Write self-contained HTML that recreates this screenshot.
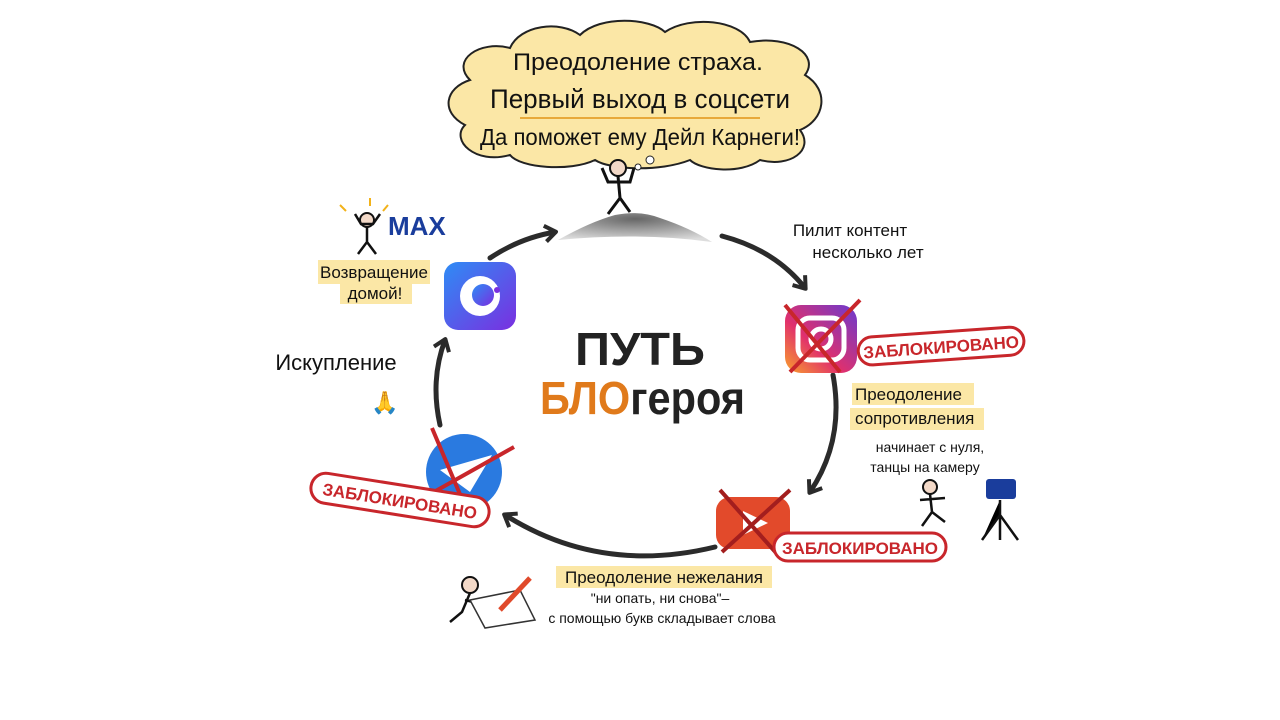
<!DOCTYPE html>
<html><head><meta charset="utf-8"><style>
body{margin:0;background:#fff;width:1280px;height:720px;overflow:hidden}
svg{display:block}
text{font-family:"Liberation Sans","DejaVu Sans",sans-serif}
</style></head><body>
<svg width="1280" height="720" viewBox="0 0 1280 720">
<defs>
<marker id="ah" markerWidth="20" markerHeight="20" refX="12" refY="10" orient="auto" markerUnits="userSpaceOnUse"><path d="M2,2 L13,10 L2,18" fill="none" stroke="#2b2b2b" stroke-width="4" stroke-linejoin="round"/></marker>
<linearGradient id="ig" x1="0" y1="1" x2="1" y2="0"><stop offset="0" stop-color="#f9a12b"/><stop offset=".4" stop-color="#e1306c"/><stop offset="1" stop-color="#6a3ad0"/></linearGradient>
<linearGradient id="mx" x1="0" y1="0" x2="1" y2="1"><stop offset="0" stop-color="#2e8cf5"/><stop offset="1" stop-color="#7a2fe0"/></linearGradient>
<radialGradient id="mt" cx=".5" cy=".2" r=".8"><stop offset="0" stop-color="#666"/><stop offset="1" stop-color="#ddd"/></radialGradient>
</defs>
<!-- cloud -->
<path d="M470,80 C450,60 480,40 510,48 C520,25 560,20 580,35 C600,15 650,18 665,32 C690,15 740,20 750,42 C790,35 820,55 805,75 C830,90 825,120 800,130 C815,150 790,168 760,160 C740,175 700,170 690,160 C660,172 610,170 595,160 C570,172 520,168 510,155 C475,165 450,140 465,125 C440,112 445,88 470,80Z" fill="#fbe7a6" stroke="#222" stroke-width="2"/>
<g fill="#111" text-anchor="middle">
<text x="638" y="70" font-size="24" textLength="250" lengthAdjust="spacingAndGlyphs">Преодоление страха.</text>
<text x="640" y="108" font-size="27" textLength="300" lengthAdjust="spacingAndGlyphs">Первый выход в соцсети</text>
<text x="640" y="145" font-size="23" textLength="320" lengthAdjust="spacingAndGlyphs">Да поможет ему Дейл Карнеги!</text>
</g>
<line x1="520" y1="118" x2="760" y2="118" stroke="#e8a93a" stroke-width="2"/>
<circle cx="638" cy="167" r="3" fill="#fff" stroke="#222"/><circle cx="650" cy="160" r="4" fill="#fff" stroke="#222"/>
<!-- stick figure + mountain -->
<path d="M558,240 Q590,222 615,215 Q640,210 660,218 Q690,228 712,242 Q640,232 558,240Z" fill="url(#mt)"/>
<circle cx="618" cy="168" r="8" fill="#f3d9c8" stroke="#111" stroke-width="2"/>
<path d="M618,176 L620,198 M602,168 L608,182 L630,182 L634,168 M620,198 L608,214 M620,198 L630,212" stroke="#111" stroke-width="3" fill="none"/>
<!-- arrows -->
<g stroke="#2b2b2b" stroke-width="5" fill="none" stroke-linecap="round">
<path d="M490,258 Q520,238 555,232" marker-end="url(#ah)"/>
<path d="M722,236 Q775,250 805,288" marker-end="url(#ah)"/>
<path d="M833,375 Q845,440 810,492" marker-end="url(#ah)"/>
<path d="M715,547 Q600,575 505,515" marker-end="url(#ah)"/>
<path d="M440,425 Q430,380 445,340" marker-end="url(#ah)"/>
</g>
<g font-size="17" fill="#111" text-anchor="middle"><text x="850" y="236">Пилит контент</text><text x="868" y="258">несколько лет</text></g>
<!-- center title -->
<text x="640" y="365" font-size="46" font-weight="bold" text-anchor="middle" fill="#222" textLength="130" lengthAdjust="spacingAndGlyphs">ПУТЬ</text>
<text x="540" y="414" font-size="46" font-weight="bold" fill="#e07a1b" textLength="205" lengthAdjust="spacingAndGlyphs">БЛО<tspan fill="#222">героя</tspan></text>
<!-- Max app -->
<rect x="444" y="262" width="72" height="68" rx="14" fill="url(#mx)"/>
<circle cx="480" cy="296" r="20" fill="#fff"/><circle cx="483" cy="295" r="11" fill="url(#mx)"/><circle cx="497" cy="290" r="3" fill="#7a2fe0"/>
<text x="388" y="235" font-size="26" font-weight="bold" fill="#1a3d9c">MAX</text>
<circle cx="367" cy="220" r="7" fill="#f3d9c8" stroke="#111" stroke-width="2"/>
<path d="M367,227 L367,242 L358,254 M367,242 L376,254 M355,214 L361,224 L373,224 L380,214" stroke="#111" stroke-width="2.5" fill="none"/>
<path d="M340,205 l6,6 M370,198 l0,8 M388,205 l-5,6" stroke="#f2b21a" stroke-width="2"/>
<rect x="318" y="260" width="112" height="24" fill="#fbe7a6"/><rect x="340" y="282" width="72" height="22" fill="#fbe7a6"/>
<text x="374" y="278" font-size="17" text-anchor="middle" fill="#111">Возвращение</text>
<text x="375" y="299" font-size="17" text-anchor="middle" fill="#111">домой!</text>
<text x="336" y="370" font-size="22" text-anchor="middle" fill="#111">Искупление</text>
<text x="385" y="410" font-size="22" text-anchor="middle">🙏</text>
<!-- instagram -->
<rect x="785" y="305" width="72" height="68" rx="16" fill="url(#ig)"/>
<rect x="798" y="318" width="46" height="42" rx="12" fill="none" stroke="#fff" stroke-width="5"/><circle cx="821" cy="339" r="10" fill="none" stroke="#fff" stroke-width="5"/>
<path d="M785,305 L840,372 M860,300 L790,372" stroke="#c8262b" stroke-width="4"/>
<g transform="rotate(-4 942 345)"><rect x="858" y="332" width="166" height="28" rx="14" fill="#fff" stroke="#c8262b" stroke-width="3"/>
<text x="941" y="353" font-size="17" font-weight="bold" fill="#c8262b" text-anchor="middle">ЗАБЛОКИРОВАНО</text></g>
<rect x="852" y="383" width="122" height="22" fill="#fbe7a6"/><rect x="850" y="408" width="134" height="22" fill="#fbe7a6"/>
<g font-size="17" fill="#111"><text x="855" y="400">Преодоление</text><text x="855" y="424">сопротивления</text></g>
<g font-size="14" fill="#111" text-anchor="middle"><text x="930" y="452">начинает с нуля,</text><text x="925" y="472">танцы на камеру</text></g>
<circle cx="930" cy="487" r="7" fill="#f3d9c8" stroke="#111" stroke-width="2"/>
<path d="M930,494 L932,512 L922,526 M932,512 L945,522 M920,500 L945,498" stroke="#111" stroke-width="2.5" fill="none"/>
<rect x="986" y="479" width="30" height="20" rx="3" fill="#1a3d9c"/>
<path d="M1000,500 L1000,515 L982,540 M1000,515 L1018,540 M1000,515 L1000,540" stroke="#111" stroke-width="2.5"/>
<!-- youtube -->
<rect x="716" y="497" width="74" height="52" rx="14" fill="#e24a2b"/><path d="M743,511 L768,523 L743,535Z" fill="#fff"/>
<path d="M720,490 L778,555 M790,490 L722,552" stroke="#a31e1e" stroke-width="4"/>
<rect x="774" y="533" width="172" height="28" rx="14" fill="#fff" stroke="#c8262b" stroke-width="3"/>
<text x="860" y="554" font-size="17" font-weight="bold" fill="#c8262b" text-anchor="middle">ЗАБЛОКИРОВАНО</text>
<!-- telegram -->
<circle cx="464" cy="472" r="38" fill="#2a7ae0"/><path d="M440,470 L492,455 L470,492Z" fill="#fff"/>
<path d="M432,428 L470,518 M514,447 L425,497" stroke="#c8262b" stroke-width="4"/>
<g transform="rotate(9 400 500)"><rect x="310" y="485" width="180" height="30" rx="15" fill="#fff" stroke="#c8262b" stroke-width="3"/>
<text x="400" y="507" font-size="17" font-weight="bold" fill="#c8262b" text-anchor="middle">ЗАБЛОКИРОВАНО</text></g>
<!-- bottom -->
<rect x="556" y="566" width="216" height="22" fill="#fbe7a6"/>
<text x="664" y="583" font-size="17" fill="#111" text-anchor="middle">Преодоление нежелания</text>
<g font-size="14" fill="#111" text-anchor="middle"><text x="660" y="603">"ни опать, ни снова"–</text><text x="662" y="623">с помощью букв складывает слова</text></g>
<circle cx="470" cy="585" r="8" fill="#f3d9c8" stroke="#111" stroke-width="2"/>
<path d="M470,593 L462,612 L450,622 M465,600 L485,605" stroke="#111" stroke-width="2.5" fill="none"/>
<path d="M470,600 L520,590 L535,620 L485,628Z" fill="#fff" stroke="#333" stroke-width="1.5"/>
<path d="M500,610 L530,578" stroke="#e04a2b" stroke-width="5"/>
</svg>
</body></html>
